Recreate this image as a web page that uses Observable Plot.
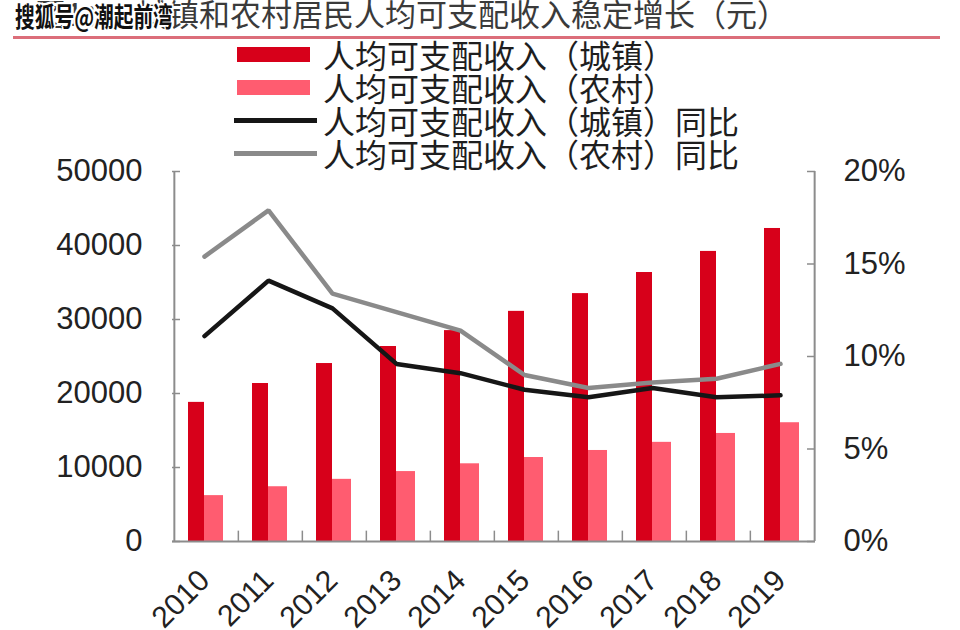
<!DOCTYPE html>
<html>
<head>
<meta charset="utf-8">
<script src="https://cdn.jsdelivr.net/npm/d3@7"></script>
<script src="https://cdn.jsdelivr.net/npm/@observablehq/plot@0.6"></script>
<style>
  html, body { margin: 0; padding: 0; background: #fff; }
  #wrap { position: relative; width: 960px; height: 630px; overflow: hidden; background: #fff; }
  #chart { position: absolute; left: 0; top: 0; }
  .title { position: absolute; top: -3px; font: 31px/31px "Noto Sans CJK SC", sans-serif; color: #3a3a3a; white-space: nowrap; }
  .rule { position: absolute; left: 13px; top: 36px; width: 927px; height: 3px; background: #dc6e7a; }
  .wm { position: absolute; left: 15px; top: 1px; font: bold 27px/30px "Noto Sans CJK SC", sans-serif; color: #111; white-space: nowrap;
        transform-origin: 0 0; transform: scaleX(0.73);
        text-shadow: -2px 0 #fff, 2px 0 #fff, 0 -2px #fff, 0 2px #fff, -2px -2px #fff, 2px 2px #fff, -2px 2px #fff, 2px -2px #fff; }
  .legend { position: absolute; left: 234px; top: 38px; }
  .lg-row { position: relative; height: 33px; display: flex; align-items: center; }
  .lg-sw { width: 83px; margin-right: 6px; }
  .lg-tx { font: 32px/33px "Noto Sans CJK SC", sans-serif; color: #1e1e1e; white-space: nowrap; }
</style>
</head>
<body>
<div id="wrap">
  <div id="chart"></div>
  <div class="title" id="titleA" style="left:35px"></div>
  <div class="title" id="titleB" style="left:137px"></div>
  <div class="rule"></div>
  <div class="wm" id="wm"></div>
  <div class="legend" id="legend"></div>
</div>
<script>
// ---- data ----
const years = ["2010", "2011", "2012", "2013", "2014", "2015", "2016", "2017", "2018", "2019"];
const urbanIncome = [18800, 21350, 24050, 26350, 28500, 31100, 33500, 36350, 39200, 42300];
const ruralIncome = [6200, 7400, 8400, 9450, 10500, 11350, 12300, 13400, 14600, 16050];
const urbanGrowth = [11.1, 14.1, 12.6, 9.6, 9.1, 8.2, 7.8, 8.3, 7.8, 7.9];
const ruralGrowth = [15.4, 17.9, 13.4, 12.4, 11.4, 9.0, 8.3, 8.6, 8.8, 9.6];
const leftTicks = [0, 10000, 20000, 30000, 40000, 50000];
const rightTicks = [0, 5, 10, 15, 20];
const seriesNames = ["人均可支配收入（城镇）", "人均可支配收入（农村）", "人均可支配收入（城镇）同比", "人均可支配收入（农村）同比"];
const seriesColors = ["#d7001a", "#ff5c70", "#161616", "#8a8a8a"];
const seriesKinds = ["bar", "bar", "line", "line"];
const titlePrefix = "图1：";
const titleText = "城镇和农村居民人均可支配收入稳定增长（元）";
const watermark = "搜狐号@潮起前湾";

// ---- layout ----
const W = 960, H = 630;
const mL = 172, mR = 145, mT = 171, mB = 89;
const plotW = W - mL - mR;
const bw = plotW / years.length;
const yMax = 50000, pMax = 20;
const k = yMax / pMax; // percent -> left axis units
const axisColor = "#8c8c8c";
const numFont = "'Liberation Sans', Arial, sans-serif";

const urbanData = years.map((y, i) => ({year: y, v: urbanIncome[i]}));
const ruralData = years.map((y, i) => ({year: y, v: ruralIncome[i]}));
const urbanG = years.map((y, i) => ({year: y, v: urbanGrowth[i] * k}));
const ruralG = years.map((y, i) => ({year: y, v: ruralGrowth[i] * k}));

const chart = Plot.plot({
  width: W, height: H,
  marginLeft: mL, marginRight: mR, marginTop: mT, marginBottom: mB,
  style: {fontFamily: numFont, color: "#222", background: "transparent"},
  x: {domain: years, padding: 0, label: null},
  y: {domain: [0, yMax], label: null},
  marks: [
    Plot.barY(urbanData, {x: "year", y: "v", fill: seriesColors[0], insetLeft: 14, insetRight: 34}),
    Plot.barY(ruralData, {x: "year", y: "v", fill: seriesColors[1], insetLeft: 30, insetRight: 15}),
    // frame lines
    Plot.ruleX([years[0]], {x: d => d, dx: -bw / 2, stroke: axisColor, strokeWidth: 2}),
    Plot.ruleX([years[years.length - 1]], {x: d => d, dx: bw / 2, stroke: axisColor, strokeWidth: 2}),
    Plot.ruleY([0], {stroke: axisColor, strokeWidth: 2}),
    // bottom category boundary ticks
    Plot.ruleX(years.slice(1), {x: d => d, dx: -bw / 2, y1: 0, y2: 1400, stroke: axisColor, strokeWidth: 1.5}),
    // inward ticks left / right
    Plot.ruleY(leftTicks, {y: d => d, insetRight: plotW - 8, stroke: axisColor, strokeWidth: 1.5}),
    Plot.ruleY(rightTicks, {y: d => d * k, insetLeft: plotW - 8, stroke: axisColor, strokeWidth: 1.5}),
    // lines
    Plot.lineY(ruralG, {x: "year", y: "v", stroke: seriesColors[3], strokeWidth: 4.5, strokeLinejoin: "miter", dx: -2}),
    Plot.lineY(urbanG, {x: "year", y: "v", stroke: seriesColors[2], strokeWidth: 4.5, strokeLinejoin: "miter", dx: -2}),
    // axes
    Plot.axisY(leftTicks, {anchor: "left", tickSize: 0, tickPadding: 30, fontSize: 31, tickFormat: d => String(d), fill: "#222"}),
    Plot.axisY(rightTicks.map(d => d * k), {anchor: "right", tickSize: 0, tickPadding: 28, fontSize: 31, tickFormat: d => (d / k) + "%", fill: "#222"}),
    Plot.axisX({tickSize: 0, tickRotate: -45, tickPadding: 34, dx: -2, fontSize: 30, fill: "#222"})
  ]
});
document.getElementById("chart").appendChild(chart);

document.getElementById("titleA").textContent = titlePrefix;
document.getElementById("titleB").textContent = titleText;
document.getElementById("wm").textContent = watermark;

const lg = document.getElementById("legend");
seriesNames.forEach((name, i) => {
  const row = document.createElement("div");
  row.className = "lg-row";
  const sw = document.createElement("div");
  sw.className = "lg-sw";
  sw.style.background = seriesColors[i];
  sw.style.height = seriesKinds[i] === "bar" ? "15px" : "5px";
  if (seriesKinds[i] === "bar") { sw.style.width = "73px"; sw.style.marginLeft = "3px"; sw.style.marginRight = "13px"; }
  const tx = document.createElement("div");
  tx.className = "lg-tx";
  tx.textContent = name;
  row.appendChild(sw);
  row.appendChild(tx);
  lg.appendChild(row);
});
</script>
</body>
</html>
